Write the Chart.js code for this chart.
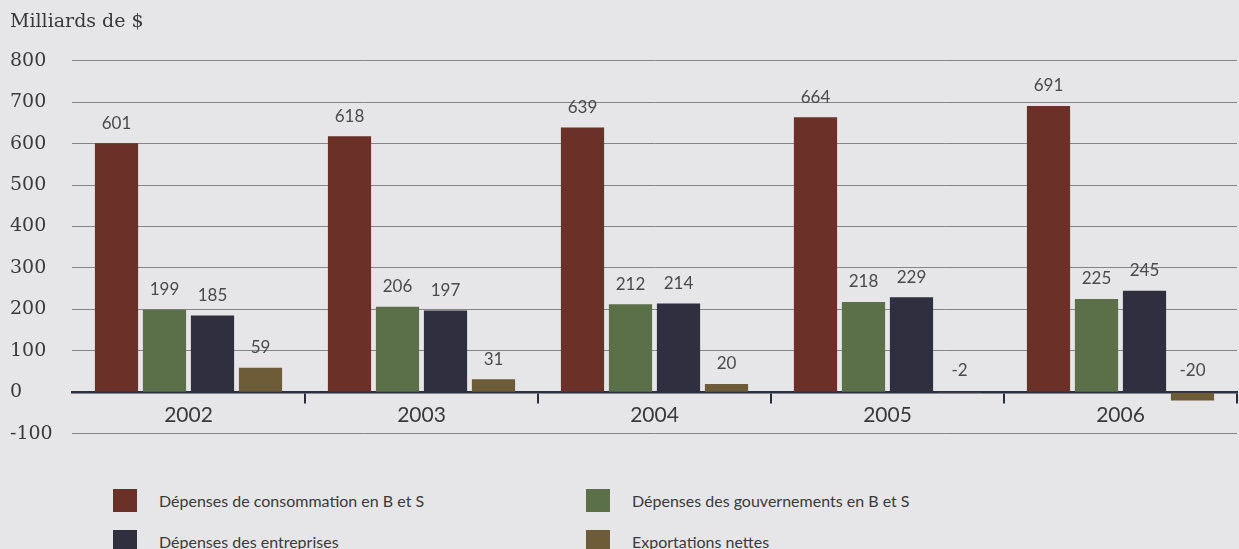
<!DOCTYPE html>
<html>
<head>
<meta charset="utf-8">
<script src="https://cdn.jsdelivr.net/npm/chart.js@4.4.0/dist/chart.umd.min.js"></script>
<style>
  body{margin:0;background:#e6e6e8;width:1239px;height:549px;overflow:hidden;position:relative}
  #wrap{position:absolute;left:0;top:0;width:1239px;height:462px}
  .leg{position:absolute;font-family:Lato,sans-serif;font-size:16px;color:#3a3a3a;white-space:nowrap}
  .leg span{position:absolute;left:0;top:0;width:24px;height:23px}
  .leg b{font-weight:normal;position:absolute;left:46px;top:2px}
</style>
</head>
<body>
<div id="wrap"><canvas id="myChart"></canvas></div>
<div id="legend"></div>
<script>
// valeurs
const years=['2002','2003','2004','2005','2006'];
const consommation=[601,618,639,664,691];
const gouvernements=[199,206,212,218,225];
const entreprises=[185,197,214,229,245];
const exportations=[59,31,20,-2,-20];
const yTicks=[-100,0,100,200,300,400,500,600,700,800];

const noms=['Dépenses de consommation en B et S','Dépenses des gouvernements en B et S','Dépenses des entreprises','Exportations nettes'];
const couleurs=['#6b3028','#5b6f48','#2f2f40','#6e5b38'];

// legende en 2 colonnes
let html='';
const pos=[[113,489],[586,489],[113,530],[586,530]];
noms.forEach((n,i)=>{
  html+=`<div class="leg" style="left:${pos[i][0]}px;top:${pos[i][1]}px"><span style="background:${couleurs[i]}"></span><b>${n}</b></div>`
})
document.getElementById('legend').innerHTML=html;

const valeurs={
  id:'valeurs',
  afterDatasetsDraw(chart){
    const ctx=chart.ctx;
    const zero=chart.scales.y.getPixelForValue(0);
    ctx.save();
    ctx.font='17px Lato, sans-serif';
    ctx.fillStyle='#4a4a4a';
    ctx.textAlign='center';
    ctx.textBaseline='middle';
    chart.data.datasets.forEach((ds,d)=>{
      chart.getDatasetMeta(d).data.forEach((bar,i)=>{
        const v=ds.data[i];
        const y=v>=0 ? bar.y-20 : zero-22;
        ctx.fillText(String(v),bar.x,y);
      })
    })
    ctx.restore();
  }
};

document.getElementById('wrap').style.height='455px';
const ctx=document.getElementById('myChart').getContext('2d');
new Chart(ctx,{
  type:'bar',
  data:{
    labels:years,
    datasets:[consommation,gouvernements,entreprises,exportations].map((arr,i)=>({
      label:noms[i],
      data:arr,
      backgroundColor:couleurs[i],
      borderWidth:0,
      categoryPercentage:0.824,
      barPercentage:0.9
    }))
  },
  options:{
    responsive:true,
    maintainAspectRatio:false,
    animation:false,
    layout:{padding:{left:10,right:2,top:0,bottom:0}},
    plugins:{
      legend:{display:false},
      tooltip:{enabled:false},
      title:{
        display:true,
        text:'Milliards de $',
        align:'start',
        color:'#3a3a3a',
        font:{family:'DejaVu Serif',size:19,weight:'normal'},
        padding:{top:11,bottom:27}
      }
    },
    scales:{
      x:{
        position:{y:0},
        grid:{
          drawOnChartArea:false,
          drawTicks:true,
          tickLength:10,
          lineWidth:2,
          color:c=>(c.index===0||c.index===years.length)?'rgba(0,0,0,0)':'#2a2e3a'
        },
        border:{display:true,color:'#2a3040',width:2.5},
        ticks:{color:'#3a3a3a',font:{family:'Lato',size:21},padding:0},
        afterFit:s=>{s.height=30}
      },
      y:{
        min:-100,
        max:800,
        afterBuildTicks:s=>{s.ticks=yTicks.map(v=>({value:v}))},
        grid:{color:'#858585',lineWidth:1,drawTicks:false},
        border:{display:false},
        ticks:{color:'#3a3a3a',font:{family:'DejaVu Serif',size:19},crossAlign:'far',padding:10},
        afterFit:s=>{s.width=62}
      }
    }
  },
  plugins:[valeurs]
});
</script>
</body>
</html>
